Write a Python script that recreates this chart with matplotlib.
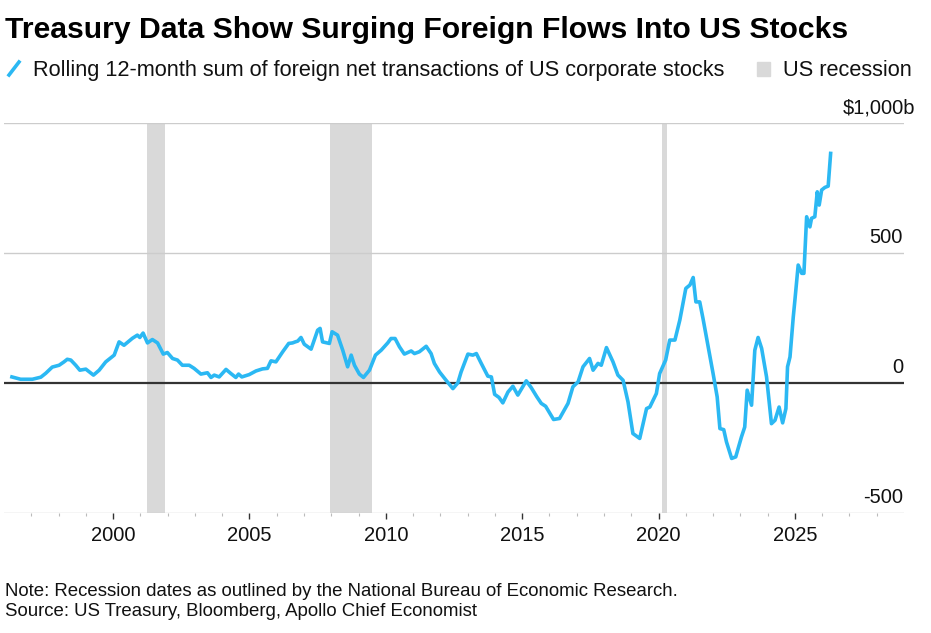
import matplotlib
matplotlib.use("Agg")
import matplotlib.pyplot as plt
from matplotlib.lines import Line2D
from matplotlib.patches import Rectangle
from matplotlib.transforms import blended_transform_factory

# rolling 12-month sum, $bn
years = [
    1996.29, 1996.61, 1997.04, 1997.35, 1997.53, 1997.77, 1998.02, 1998.20, 1998.32, 1998.45,
    1998.63, 1998.78, 1999.00, 1999.28, 1999.49, 1999.73, 2000.04, 2000.22, 2000.40, 2000.71,
    2000.89, 2000.98, 2001.10, 2001.26, 2001.44, 2001.63, 2001.84, 2001.99, 2002.18, 2002.36,
    2002.54, 2002.79, 2002.97, 2003.22, 2003.46, 2003.59, 2003.71, 2003.89, 2004.14, 2004.32,
    2004.50, 2004.60, 2004.72, 2004.99, 2005.24, 2005.48, 2005.66, 2005.79, 2005.97, 2006.22,
    2006.44, 2006.58, 2006.68, 2006.77, 2006.89, 2007.01, 2007.26, 2007.50, 2007.59, 2007.68,
    2007.93, 2008.03, 2008.23, 2008.42, 2008.60, 2008.73, 2008.85, 2009.03, 2009.18, 2009.40,
    2009.62, 2009.83, 2010.07, 2010.19, 2010.34, 2010.50, 2010.68, 2010.93, 2011.05, 2011.23,
    2011.48, 2011.66, 2011.78, 2011.97, 2012.21, 2012.46, 2012.64, 2012.76, 2013.01, 2013.19,
    2013.32, 2013.50, 2013.74, 2013.87, 2013.99, 2014.15, 2014.29, 2014.48, 2014.66, 2014.84,
    2015.15, 2015.33, 2015.54, 2015.70, 2015.86, 2016.15, 2016.37, 2016.68, 2016.86, 2017.05,
    2017.23, 2017.47, 2017.60, 2017.78, 2017.90, 2018.09, 2018.33, 2018.51, 2018.70, 2018.88,
    2019.06, 2019.31, 2019.56, 2019.68, 2019.92, 2020.04, 2020.26, 2020.41, 2020.60, 2020.78,
    2021.00, 2021.15, 2021.27, 2021.37, 2021.51, 2021.63, 2022.00, 2022.15, 2022.25, 2022.39,
    2022.49, 2022.68, 2022.83, 2023.04, 2023.16, 2023.25, 2023.41, 2023.53, 2023.65, 2023.78,
    2023.96, 2024.14, 2024.27, 2024.42, 2024.55, 2024.67, 2024.73, 2024.82, 2024.94, 2025.00,
    2025.12, 2025.25, 2025.33, 2025.43, 2025.55, 2025.61, 2025.73, 2025.82, 2025.89, 2025.98,
    2026.10, 2026.22, 2026.31,
]
flows = [
    23, 14, 14, 22, 37, 61, 68, 81, 91, 88,
    68, 49, 53, 30, 49, 81, 107, 158, 145, 172,
    184, 175, 192, 154, 167, 154, 111, 117, 94, 88,
    68, 68, 56, 34, 39, 21, 30, 23, 52, 36,
    21, 34, 23, 32, 46, 54, 56, 85, 81, 120,
    152, 154, 158, 161, 175, 149, 130, 203, 210, 158,
    152, 197, 184, 126, 62, 107, 68, 34, 21, 49,
    107, 126, 154, 171, 171, 139, 111, 123, 113, 120,
    141, 113, 75, 42, 10, -22, 0, 42, 111, 107,
    113, 75, 26, 23, -44, -56, -77, -35, -13, -47,
    8, -18, -54, -79, -90, -141, -137, -79, -15, 4,
    62, 94, 49, 75, 68, 136, 81, 30, 10, -73,
    -195, -214, -99, -93, -41, 36, 88, 165, 165, 242,
    364, 377, 406, 312, 312, 248, 36, -54, -176, -180,
    -227, -291, -285, -208, -170, -28, -86, 126, 175, 133,
    23, -157, -144, -93, -154, -99, 62, 100, 254, 319,
    454, 422, 422, 640, 601, 634, 640, 736, 685, 743,
    753, 758, 884,
]

# NBER recessions
rec_start = [2001.25, 2007.96, 2020.13]
rec_end = [2001.92, 2009.50, 2020.31]

ytick_vals = [-500, 0, 500, 1000]
ytick_labels = ["-500", "0", "500", "$1,000b"]
xtick_years = [2000, 2005, 2010, 2015, 2020, 2025]

BLUE = "#2bb8f3"
GREY = "#d9d9d9"
W, H = 931, 633

plt.rcParams["font.family"] = ["Liberation Sans", "DejaVu Sans"]

fig = plt.figure(figsize=(W / 100, H / 100), dpi=100)
ax = fig.add_axes([4 / W, (H - 512.7) / H, 900 / W, (512.7 - 123.3) / H])

for s, e in zip(rec_start, rec_end):
    ax.axvspan(s, e, color=GREY, lw=0, zorder=1)

for v in ytick_vals:
    if v == 0:
        ax.axhline(v, color="#333333", lw=1.6, zorder=3)
    else:
        ax.axhline(v, color="#cccccc", lw=1.0, zorder=2)

ax.plot(years, flows, color=BLUE, lw=2.6, solid_joinstyle="round", zorder=4)

ax.set_xlim(1996, 2029)
ax.set_ylim(-500, 1000)
for sp in ax.spines.values():
    sp.set_visible(False)
ax.set_yticks([])
ax.set_xticks(xtick_years)
ax.set_xticklabels([str(y) for y in xtick_years])
ax.set_xticks(range(1997, 2029), minor=True)
ax.tick_params(axis="x", which="major", length=4.5, width=1.0, color="#333333",
               pad=5, labelsize=14.5, labelcolor="#111111")
ax.tick_params(axis="x", which="minor", length=2.5, width=0.8, color="#bbbbbb")

# y labels sit just above their gridlines on the right
trans = blended_transform_factory(ax.transAxes, ax.transData)
for v, lab in zip(ytick_vals, ytick_labels):
    xr = 1.0122 if lab.startswith("$") else 0.9989
    ax.text(xr, v + 38, lab, transform=trans, ha="right", va="baseline",
            fontsize=14.5, color="#111111", clip_on=False)

# title and legend
fig.text(5 / W, 1 - 38.3 / H, "Treasury Data Show Surging Foreign Flows Into US Stocks",
         fontsize=21.7, fontweight="bold", color="black", va="baseline")

fig.add_artist(Line2D([9 / W, 19 / W], [1 - 75 / H, 1 - 62 / H], color=BLUE, lw=2.6,
                      transform=fig.transFigure))
fig.text(33 / W, 1 - 76 / H,
         "Rolling 12-month sum of foreign net transactions of US corporate stocks",
         fontsize=15.7, color="#111111", va="baseline")
fig.add_artist(Rectangle((757 / W, 1 - 76 / H), 13 / W, 14 / H, color=GREY,
                         transform=fig.transFigure))
fig.text(783 / W, 1 - 76 / H, "US recession", fontsize=15.7, color="#111111", va="baseline")

# footer
fig.text(5 / W, 1 - 596 / H,
         "Note: Recession dates as outlined by the National Bureau of Economic Research.",
         fontsize=13.4, color="#111111", va="baseline")
fig.text(5 / W, 1 - 616 / H, "Source: US Treasury, Bloomberg, Apollo Chief Economist",
         fontsize=13.4, color="#111111", va="baseline")

fig.savefig("out.png", dpi=100)
